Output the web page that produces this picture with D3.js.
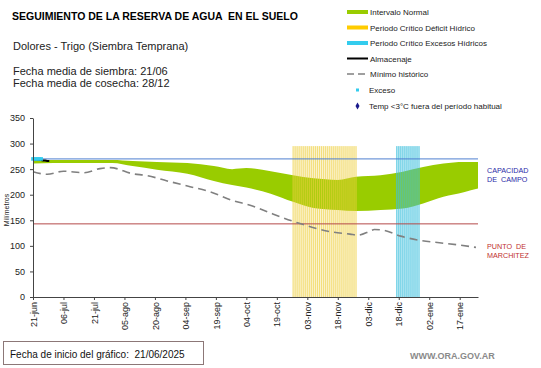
<!DOCTYPE html>
<html><head><meta charset="utf-8">
<script src="https://cdn.jsdelivr.net/npm/d3@7"></script>
<style>
html,body{margin:0;padding:0;background:#fff;}
svg{display:block;font-family:"Liberation Sans",Arial,sans-serif;}
</style></head>
<body><svg id="c" width="541" height="368"></svg>
<script>
// ---- data (day offsets from 21/06/2025) ----
const tickLabels = ["21-jun","06-jul","21-jul","05-ago","20-ago","04-sep","19-sep","04-oct","19-oct","03-nov","18-nov","03-dic","18-dic","02-ene","17-ene"];
const tickDays = [0,15,30,45,60,75,90,105,120,135,150,165,180,195,210];
const yTicks = [0,50,100,150,200,250,300,350];

const bandDays  = [0, 10, 20, 30, 39, 49, 61, 76, 89, 98, 105, 117, 128, 138, 150, 159, 171, 182, 192, 202, 212, 219];
const bandUpper = [268,268,268,268,268,266,264,262,256,250,252,246,238,232,229,235,238,245,254,261,264,264];
const bandLower = [261,262,262,262,262,256,249,241,227,219,214,202,186,174,170,168,170,173,183,196,205,212];

const minDays = [0, 7, 15, 25, 33, 38, 49, 56, 66, 76, 87, 98, 108, 117, 131, 146, 156, 160, 166, 168, 173, 181, 190, 200, 210, 218];
const minVals = [245,240,246,243,251,253,241,237.5,227,217,206,189,178,164,144,128,123,121,129,132,130,119,111,106,101.5,97];

const almDays = [0,1,2,3,4,5,6,7,8];
const almVals = [269,269,269,268,268,267,267,266,266];
const excDays = [0,1,2,3,4];
const excVals = [270,270,270,270,270];

const deficitPeriod = [128,159];
const excesoPeriod = [179,190];
const criticalTop = 295;

const capacidadCampo = 270;
const puntoMarchitez = 143;

// ---- drawing ----
const svg = d3.select("#c");
svg.append("rect").attr("width",541).attr("height",368).attr("fill","#fff");

const x = d3.scaleLinear().domain([0,219]).range([33,478]);
const y = d3.scaleLinear().domain([0,350]).range([297,118]);

// band
const band = bandDays.map((d,i)=>({d, u:bandUpper[i], l:bandLower[i]}));
svg.append("path").datum(band)
  .attr("fill","#99cc00")
  .attr("d", d3.area().x(p=>x(p.d)).y0(p=>y(p.l)).y1(p=>y(p.u)).curve(d3.curveMonotoneX));

// critical periods
function period(range, fill, bgOp, op){
  const days = d3.range(range[0], range[1]+1);
  svg.append("rect").attr("x", x(range[0])-0.5).attr("width", x(range[1])-x(range[0])+1)
    .attr("y", y(criticalTop)).attr("height", y(0)-y(criticalTop))
    .attr("fill", fill).attr("opacity", bgOp);
  svg.append("g").selectAll("rect").data(days).join("rect")
    .attr("x", d=>x(d)-0.5).attr("width",1)
    .attr("y", y(criticalTop)).attr("height", y(0)-y(criticalTop))
    .attr("fill", fill).attr("opacity", op);
}
period(deficitPeriod, "#efd040", 0.25, 0.6);
period(excesoPeriod, "#3ec0dd", 0.3, 0.7);

// reference lines
svg.append("line").attr("x1",x(0)).attr("x2",x(219)).attr("y1",y(capacidadCampo)).attr("y2",y(capacidadCampo))
  .attr("stroke","#4f7fd0").attr("stroke-width",1);
svg.append("line").attr("x1",x(0)).attr("x2",x(219)).attr("y1",y(puntoMarchitez)).attr("y2",y(puntoMarchitez))
  .attr("stroke","#b54a4a").attr("stroke-width",1);

// minimo historico
svg.append("path").datum(minDays.map((d,i)=>[d,minVals[i]]))
  .attr("fill","none").attr("stroke","#808080").attr("stroke-width",1.6)
  .attr("stroke-dasharray","8,5")
  .attr("d", d3.line().x(p=>x(p[0])).y(p=>y(p[1])).curve(d3.curveMonotoneX));

// almacenaje
svg.append("path").datum(almDays.map((d,i)=>[d,almVals[i]]))
  .attr("fill","none").attr("stroke","#000").attr("stroke-width",2)
  .attr("d", d3.line().x(p=>x(p[0])).y(p=>y(p[1])));
// exceso markers
svg.append("g").selectAll("rect").data(excDays.map((d,i)=>[d,excVals[i]])).join("rect")
  .attr("x",p=>x(p[0])-1.8).attr("y",p=>y(p[1])-1.8).attr("width",3.6).attr("height",3.6)
  .attr("fill","#33ccee");

// axes
const yAxis = svg.append("g").attr("transform",`translate(${x(0)},0)`)
  .call(d3.axisLeft(y).tickValues(yTicks).tickSize(3).tickSizeOuter(0).tickPadding(5));
yAxis.selectAll("text").attr("font-size","9px").attr("fill","#222").attr("font-family","Liberation Sans, Arial, sans-serif");
yAxis.selectAll("line,path").attr("stroke","#444");

const xAxis = svg.append("g").attr("transform",`translate(0,${y(0)})`)
  .call(d3.axisBottom(x).tickValues(tickDays).tickFormat((d,i)=>tickLabels[i]).tickSize(3).tickSizeOuter(0));
xAxis.selectAll("text").attr("font-size","9px").attr("fill","#222").attr("font-family","Liberation Sans, Arial, sans-serif")
  .attr("transform","rotate(-90)").attr("x",-5).attr("y",0).attr("dy","0.35em").attr("text-anchor","end");
xAxis.selectAll("line,path").attr("stroke","#444");

svg.append("text").attr("transform","translate(9,210) rotate(-90)").attr("text-anchor","middle")
  .attr("font-size","7px").attr("fill","#222").text("Milímetros");

// titles
svg.append("text").attr("x",12).attr("y",19.5).attr("font-size","10.5px").attr("font-weight","bold").attr("fill","#000")
  .attr("xml:space","preserve").style("white-space","pre").text("SEGUIMIENTO DE LA RESERVA DE AGUA  EN EL SUELO");
svg.append("text").attr("x",13).attr("y",49.5).attr("font-size","11px").attr("fill","#222").text("Dolores - Trigo (Siembra Temprana)");
svg.append("text").attr("x",13).attr("y",74.5).attr("font-size","11px").attr("fill","#222").text("Fecha media de siembra: 21/06");
svg.append("text").attr("x",13).attr("y",87).attr("font-size","11px").attr("fill","#222").text("Fecha media de cosecha: 28/12");

// legend
const lg = svg.append("g");
const lx = 347, tx = 370;
const legendRows = [
  {t:"Intervalo Normal", type:"rect", c:"#99cc00", yy:12},
  {t:"Periodo Crítico Déficit Hídrico", type:"rect", c:"#ffcc00", yy:27.5},
  {t:"Periodo Crítico Excesos Hídricos", type:"rect", c:"#33ccee", yy:43},
  {t:"Almacenaje", type:"line", c:"#000", yy:58.5},
  {t:"Mínimo histórico", type:"dash", c:"#808080", yy:74},
  {t:"Exceso", type:"dot", c:"#33ccee", yy:90},
  {t:"Temp <3°C fuera del período habitual", type:"diamond", c:"#1a1a8c", yy:106}
];
legendRows.forEach(r=>{
  if(r.type==="rect") lg.append("rect").attr("x",lx).attr("y",r.yy-2).attr("width",21).attr("height",4).attr("fill",r.c);
  if(r.type==="line") lg.append("line").attr("x1",lx).attr("x2",lx+21).attr("y1",r.yy).attr("y2",r.yy).attr("stroke",r.c).attr("stroke-width",2);
  if(r.type==="dash") lg.append("line").attr("x1",lx).attr("x2",lx+21).attr("y1",r.yy).attr("y2",r.yy).attr("stroke",r.c).attr("stroke-width",1.6).attr("stroke-dasharray","7,4");
  if(r.type==="dot") lg.append("rect").attr("x",356).attr("y",r.yy-1.5).attr("width",3).attr("height",3).attr("fill",r.c);
  if(r.type==="diamond") lg.append("path").attr("transform",`translate(357.5,${r.yy})`).attr("d",d3.symbol(d3.symbolDiamond,14)()).attr("fill",r.c);
  lg.append("text").attr("x", r.type==="dot"||r.type==="diamond" ? 369 : tx).attr("y",r.yy+3).attr("font-size","8px").attr("fill","#222").text(r.t);
});

// right labels
svg.append("text").attr("x",487).attr("y",173).attr("font-size","7.2px").attr("fill","#2a2aa8").text("CAPACIDAD");
svg.append("text").attr("x",487).attr("y",182).attr("font-size","7.2px").attr("fill","#2a2aa8").attr("xml:space","preserve").style("white-space","pre").text("DE  CAMPO");
svg.append("text").attr("x",487).attr("y",249).attr("font-size","7.2px").attr("fill","#c0302e").attr("xml:space","preserve").style("white-space","pre").text("PUNTO  DE");
svg.append("text").attr("x",487).attr("y",258).attr("font-size","7.2px").attr("fill","#c0302e").text("MARCHITEZ");

// footer
svg.append("rect").attr("x",3.5).attr("y",341.5).attr("width",200).attr("height",23).attr("fill","#fff").attr("stroke","#8c7777").attr("stroke-width",1);
svg.append("text").attr("x",10).attr("y",358).attr("font-size","10px").attr("fill","#111").attr("xml:space","preserve").style("white-space","pre")
  .text("Fecha de inicio del gráfico:  21/06/2025");
svg.append("text").attr("x",410).attr("y",359).attr("font-size","9px").attr("font-weight","bold").attr("fill","#8a8a8a").text("WWW.ORA.GOV.AR");
</script></body></html>
